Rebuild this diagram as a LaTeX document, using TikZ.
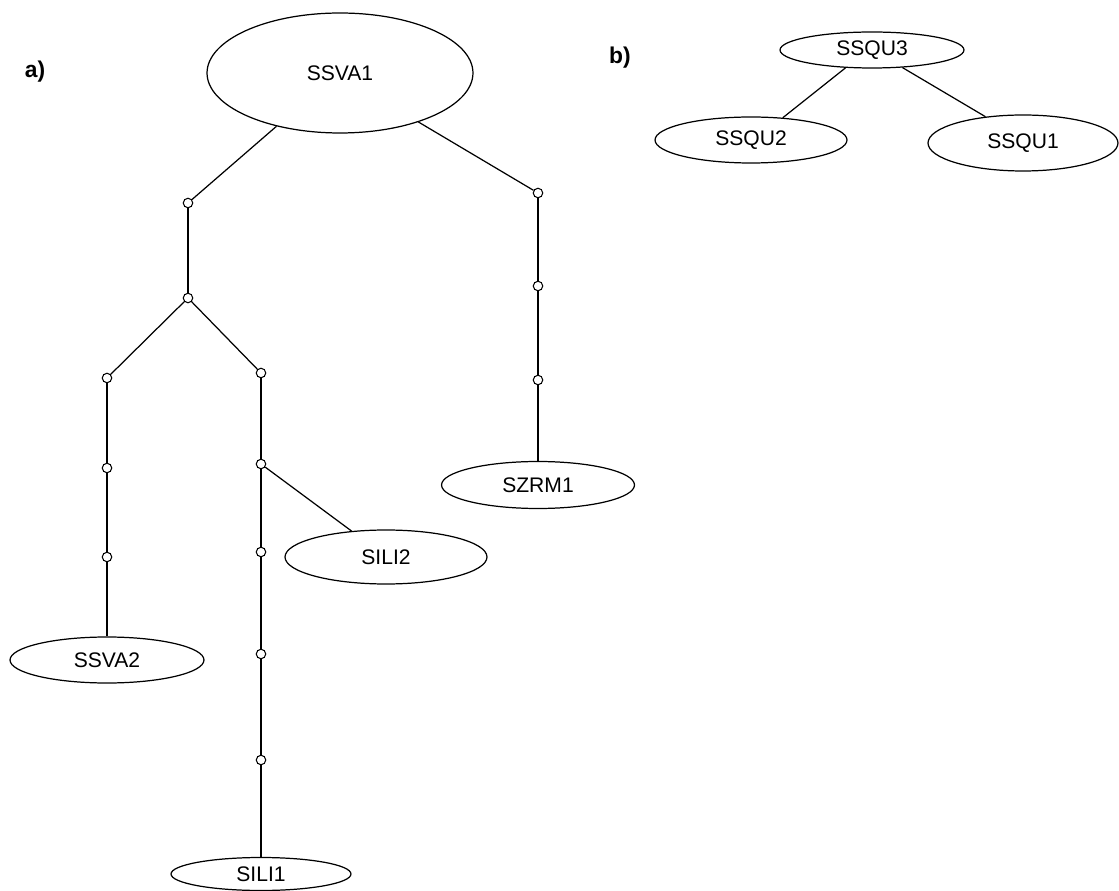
\documentclass[tikz,border=0pt]{standalone}
\usepackage{fontspec}
\setmainfont{Liberation Sans}
\usetikzlibrary{shapes.geometric}
\tikzstyle{ent} = [draw, ellipse, inner sep=0pt, line width=0.7pt, font=\fontsize{12}{14}\selectfont]
\tikzstyle{knot} = [draw, circle, fill=white, inner sep=0pt, minimum size=1.9mm, line width=0.6pt]
\tikzstyle{tag} = [font=\fontsize{13}{15}\selectfont\bfseries]
\tikzstyle{link} = [line width=0.7pt]

\begin{document}
\begin{tikzpicture}[x=0.02cm, y=-0.02cm]
  \useasboundingbox (0,0) rectangle (1119,891);
  % part a)
  \node[tag] (taga) at (35,72) {a)};
  \node[ent, minimum width=5.32cm, minimum height=2.4cm] (ssva1) at (340,73) {SSVA1};
  \node[ent, minimum width=3.88cm, minimum height=0.92cm] (ssva2) at (107,660) {SSVA2};
  \node[ent, minimum width=3.6cm, minimum height=0.66cm] (sili1) at (261,874) {SILI1};
  \node[ent, minimum width=4.04cm, minimum height=1.08cm] (sili2) at (386,557) {SILI2};
  \node[ent, minimum width=3.86cm, minimum height=0.94cm] (szrm1) at (538,485) {SZRM1};
  \node[knot] (a1) at (188,203) {};
  \node[knot] (a2) at (188,298) {};
  \node[knot] (b1) at (107,378) {};
  \node[knot] (b2) at (107,468) {};
  \node[knot] (b3) at (107,557) {};
  \node[knot] (c1) at (261,373) {};
  \node[knot] (c2) at (261,464) {};
  \node[knot] (c3) at (261,552) {};
  \node[knot] (c4) at (261,654) {};
  \node[knot] (c5) at (261,760) {};
  \node[knot] (r1) at (538,193) {};
  \node[knot] (r2) at (538,286) {};
  \node[knot] (r3) at (538,380) {};
  \draw[link] (ssva1.220) -- (a1);
  \draw[link] (ssva1.328) -- (r1);
  \draw[link] (a1) -- (a2);
  \draw[link] (a2) -- (b1);
  \draw[link] (a2) -- (c1);
  \draw[link] (b1) -- (b2);
  \draw[link] (b2) -- (b3);
  \draw[link] (b3) -- (ssva2.north);
  \draw[link] (c1) -- (c2);
  \draw[link] (c2) -- (c3);
  \draw[link] (c3) -- (c4);
  \draw[link] (c4) -- (c5);
  \draw[link] (c5) -- (sili1.north);
  \draw[link] (c2) -- (sili2.143);
  \draw[link] (r1) -- (r2);
  \draw[link] (r2) -- (r3);
  \draw[link] (r3) -- (szrm1.north);
  % part b)
  \node[tag] (tagb) at (620,58) {b)};
  \node[ent, minimum width=3.68cm, minimum height=0.72cm] (ssqu3) at (872,50) {SSQU3};
  \node[ent, minimum width=3.84cm, minimum height=0.92cm] (ssqu2) at (751,140) {SSQU2};
  \node[ent, minimum width=3.8cm, minimum height=1.12cm] (ssqu1) at (1023,143) {SSQU1};
  \draw[link] (ssqu3.214) -- (ssqu2.35);
  \draw[link] (ssqu3.330) -- (ssqu1.145);
\end{tikzpicture}
\end{document}
